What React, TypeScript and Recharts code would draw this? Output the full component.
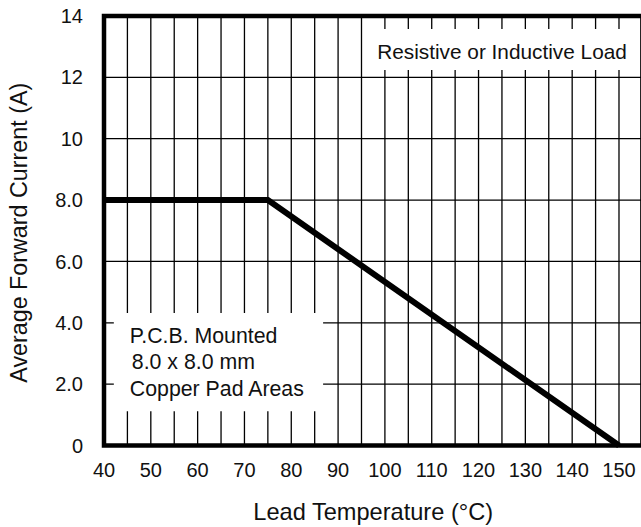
import React from 'react';
import {
  CartesianGrid,
  Line,
  LineChart,
  ReferenceArea,
  XAxis,
  YAxis,
} from 'recharts';

// derating curve: lead temperature (°C) vs average forward current (A)
const temperature = [40, 75, 150];
const current = [8.0, 8.0, 0];

const xGridTicks = [
  40, 45, 50, 55, 60, 65, 70, 75, 80, 85, 90, 95, 100, 105, 110, 115, 120,
  125, 130, 135, 140, 145, 150, 155,
];
const xLabelTicks = [40, 50, 60, 70, 80, 90, 100, 110, 120, 130, 140, 150];
const yTicks = [0, 2, 4, 6, 8, 10, 12, 14];
const yTickLabels = ['0', '2.0', '4.0', '6.0', '8.0', '10', '12', '14'];

const loadNote = ['Resistive or Inductive Load'];
const padNote = ['P.C.B. Mounted', '8.0 x 8.0 mm', 'Copper Pad Areas'];

const data = temperature.map((t, i) => ({ t, amps: current[i] }));

const FONT = '"Liberation Sans", Arial, Helvetica, sans-serif';
const INK = '#111';

const noteText =
  (
    lines: string[],
    offsets: number[],
    firstLine: number,
    gap: number,
    size: number
  ) =>
  (props: any) => {
    const { x, y } = props.viewBox;
    return (
      <text fontFamily={FONT} fontSize={size} fill={INK}>
        {lines.map((line, i) => (
          <tspan key={line} x={x + offsets[i]} y={y + firstLine + i * gap}>
            {line}
          </tspan>
        ))}
      </text>
    );
  };

const xTitle = (props: any) => {
  const { x, y, width } = props.viewBox;
  return (
    <text
      x={x + width / 2}
      y={y + 74.5}
      textAnchor='middle'
      fontFamily={FONT}
      fontSize={23.6}
      fill={INK}
    >
      Lead Temperature (°C)
    </text>
  );
};

const yTitle = (props: any) => {
  const { y, height } = props.viewBox;
  const cy = y + height / 2 + 2;
  return (
    <text
      transform={`translate(27, ${cy}) rotate(-90)`}
      textAnchor='middle'
      fontFamily={FONT}
      fontSize={23.3}
      fill={INK}
    >
      Average Forward Current (A)
    </text>
  );
};

export default function App() {
  return (
    <div
      style={{
        position: 'fixed',
        left: 0,
        top: 0,
        width: 641,
        height: 527,
        overflow: 'hidden',
        background: '#fff',
      }}
    >
      <LineChart
        width={660}
        height={527}
        data={data}
        margin={{ top: 16, right: 17.6, bottom: 0, left: 0 }}
      >
        <CartesianGrid stroke='#000' strokeWidth={1.3} strokeOpacity={1} />
        <XAxis
          type='number'
          dataKey='t'
          domain={[40, 155]}
          ticks={xGridTicks}
          interval={0}
          tickFormatter={(v: number) =>
            xLabelTicks.includes(v) ? String(v) : ''
          }
          axisLine={false}
          tickLine={false}
          tickSize={0}
          tickMargin={17.5}
          height={81.5}
          tick={{ fill: INK, fontSize: 20, fontFamily: FONT }}
          label={xTitle}
        />
        <YAxis
          type='number'
          domain={[0, 14]}
          ticks={yTicks}
          interval={0}
          tickFormatter={(v: number) => yTickLabels[yTicks.indexOf(v)]}
          width={104}
          axisLine={false}
          tickLine={false}
          tickSize={0}
          tickMargin={21}
          tick={{ fill: INK, fontSize: 20, fontFamily: FONT }}
          label={yTitle}
        />
        <ReferenceArea
          x1={96}
          x2={155}
          y1={12.24}
          y2={13.58}
          fill='#fff'
          fillOpacity={1}
          stroke='none'
          label={noteText(loadNote, [11], 30, 0, 20.8)}
        />
        <ReferenceArea
          x1={42.1}
          x2={86.8}
          y1={1.12}
          y2={4.32}
          fill='#fff'
          fillOpacity={1}
          stroke='none'
          label={noteText(padNote, [16, 18, 16], 30, 26.5, 21.3)}
        />
        <Line
          type='linear'
          dataKey='amps'
          stroke='#000'
          strokeWidth={6}
          dot={false}
          isAnimationActive={false}
        />
        <ReferenceArea
          x1={40}
          x2={155}
          y1={0}
          y2={14}
          fill='none'
          stroke='#000'
          strokeWidth={4.5}
        />
      </LineChart>
    </div>
  );
}
